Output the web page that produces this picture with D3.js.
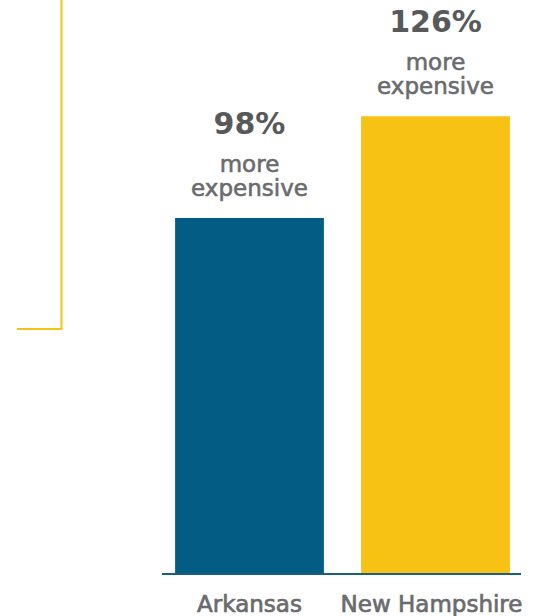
<!DOCTYPE html>
<html>
<head>
<meta charset="utf-8">
<script src="https://cdn.jsdelivr.net/npm/d3@7"></script>
<style>
  html, body { margin: 0; padding: 0; background: #fff; }
  svg { display: block; }
  text { font-family: "DejaVu Sans", sans-serif; }
</style>
</head>
<body>
<div id="chart"></div>
<script>
// data
const states = ["Arkansas", "New Hampshire"];
const pctMore = [98, 126];
const subLines = ["more", "expensive"];

const width = 548;
const height = 616;

let blue = "#035c83";
let yellow = "#f8c214";
let grayDark = "#58595b";
let gray = "#6a6b6e";

const svg = d3.select("#chart")
  .append("svg")
  .attr("width", width)
  .attr("height", height);

const x = d3.scaleBand()
  .domain(states)
  .range([156.5, 528.5])
  .paddingInner(0.2)
  .paddingOuter(0.1);

const y = d3.scaleLinear()
  .domain([0, 100])
  .range([574, 210.7]);

// yellow bracket on the left
svg.append("path")
  .attr("d", "M61.5 0 V329 H17")
  .attr("fill", "none")
  .attr("stroke", yellow)
  .attr("stroke-width", 2);

const data = states.map((s, i) => ({ state: s, value: pctMore[i], color: i === 0 ? blue : yellow }));

svg.selectAll("rect.bar")
  .data(data)
  .enter()
  .append("rect")
  .attr("class", "bar")
  .attr("x", d => x(d.state))
  .attr("y", d => y(d.value))
  .attr("width", x.bandwidth())
  .attr("height", d => y(0) - y(d.value))
  .attr("fill", d => d.color);

// baseline
svg.append("line")
  .attr("x1", 162)
  .attr("x2", 521)
  .attr("y1", y(0))
  .attr("y2", y(0))
  .attr("stroke", "#1d5f84")
  .attr("stroke-width", 2);

// value labels
const lbl = svg.selectAll("g.lbl")
  .data(data)
  .enter()
  .append("g")
  .attr("class", "lbl")
  .attr("transform", d => `translate(${x(d.state) + x.bandwidth() / 2},${y(d.value)})`);

lbl.append("text")
  .attr("y", -84)
  .attr("text-anchor", "middle")
  .attr("font-size", 30)
  .attr("font-weight", "bold")
  .attr("fill", grayDark)
  .text(d => d.value + "%");

subLines.forEach((t, i) => {
  lbl.append("text")
    .attr("y", -46 + i * 24)
    .attr("text-anchor", "middle")
    .attr("font-size", 23)
    .attr("fill", gray)
    .attr("stroke", gray)
    .attr("stroke-width", 0.6)
    .text(t);
});

// category labels
svg.selectAll("text.cat")
  .data(states)
  .enter()
  .append("text")
  .attr("class", "cat")
  .attr("x", d => x(d) + x.bandwidth() / 2 - (d === "New Hampshire" ? 4 : 0))
  .attr("y", 612)
  .attr("text-anchor", "middle")
  .attr("font-size", 23)
  .attr("fill", gray)
  .attr("stroke", gray)
  .attr("stroke-width", 0.7)
  .text(d => d);
</script>
</body>
</html>
